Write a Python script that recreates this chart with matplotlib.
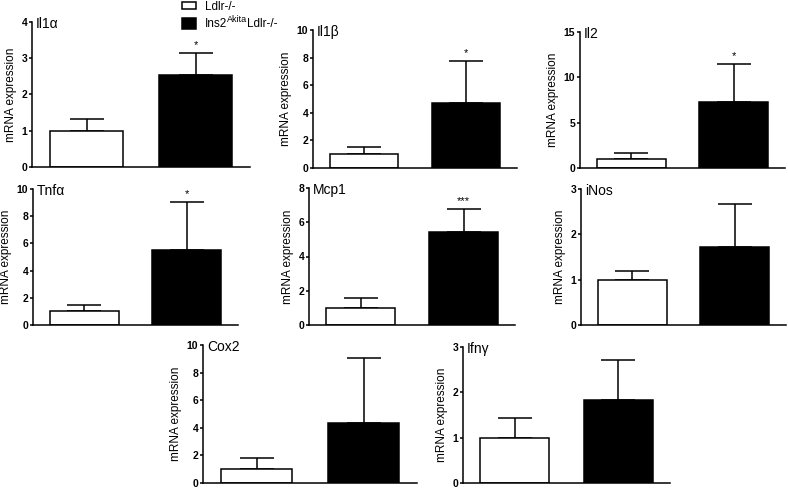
import matplotlib
matplotlib.use('Agg')
import matplotlib.pyplot as plt
from matplotlib.patches import Rectangle
import numpy as np

plt.rcParams['font.family'] = ['Liberation Sans', 'DejaVu Sans']

genes = ['Il1\u03b1', 'Il1\u03b2', 'Il2', 'Tnf\u03b1', 'Mcp1', 'iNos', 'Cox2', 'Ifn\u03b3']
ctrl_mean = [1.0, 1.0, 1.0, 1.0, 1.0, 1.0, 1.0, 1.0]
ctrl_top = [1.32, 1.55, 1.6, 1.45, 1.6, 1.2, 1.8, 1.43]
akita_mean = [2.55, 4.7, 7.3, 5.55, 5.45, 1.72, 4.35, 1.82]
akita_top = [3.15, 7.75, 11.5, 9.05, 6.8, 2.68, 9.05, 2.72]
ymax = [4, 10, 15, 10, 8, 3, 10, 3]
ystep = [1, 2, 5, 2, 2, 1, 2, 1]
stars = ['*', '*', '*', '*', '***', '', '', '']
group1 = 'Ldlr-/-'
group2 = ['Ins2', 'Akita', 'Ldlr-/-']

W, H = 788, 488
# axes boxes in pixels: left, top, right, bottom
boxes = [(32, 22, 250, 167), (313, 30, 517, 168), (580, 32, 785, 168),
         (33, 189, 238, 325), (309, 188, 515, 325), (581, 189, 786, 325),
         (203, 345, 417, 483), (463, 347, 670, 483)]

fig = plt.figure(figsize=(W / 100, H / 100), dpi=100)

for i, g in enumerate(genes):
    l, t, r, b = boxes[i]
    ax = fig.add_axes([l / W, (H - b) / H, (r - l) / W, (b - t) / H])
    means = [ctrl_mean[i], akita_mean[i]]
    errs = [ctrl_top[i] - ctrl_mean[i], akita_top[i] - akita_mean[i]]
    x = np.arange(2)
    ax.bar(x, means, width=0.67, color=['white', 'black'], edgecolor='black',
           linewidth=1.1, zorder=2)
    ax.errorbar(x, means, yerr=[[0, 0], errs], fmt='none', ecolor='black',
                elinewidth=1.1, capsize=12.5, capthick=1.1, zorder=1)
    if stars[i]:
        ax.annotate(stars[i], (1, akita_top[i]), xytext=(0, 2), textcoords='offset points',
                    ha='center', va='bottom', fontsize=8)
    ax.set_xlim(-0.5, 1.5)
    ax.set_ylim(0, ymax[i])
    ax.set_yticks(np.arange(0, ymax[i] + 0.1, ystep[i]))
    ax.set_xticks([])
    for s in ['top', 'right']:
        ax.spines[s].set_visible(False)
    for s in ['left', 'bottom']:
        ax.spines[s].set_linewidth(1.1)
    ax.tick_params(axis='y', direction='out', length=2.5, width=1.1, pad=1, labelsize=7.5)
    for lab in ax.get_yticklabels():
        lab.set_fontweight('bold')
    ax.set_ylabel('mRNA expression', fontsize=8.5, labelpad=3)
    ax.annotate(g, (0, 1), xycoords='axes fraction', xytext=(3, -1.5),
                textcoords='offset points', ha='left', va='center', fontsize=10)

# legend
fig.patches.append(Rectangle((182 / W, (H - 9) / H), 14 / W, 7 / H, transform=fig.transFigure,
                             facecolor='white', edgecolor='black', linewidth=1.1))
fig.patches.append(Rectangle((182 / W, (H - 29) / H), 14 / W, 11 / H, transform=fig.transFigure,
                             facecolor='black', edgecolor='black', linewidth=1.1))
fig.text(205 / W, (H - 6.5) / H, group1, fontsize=8.5, va='center', ha='left')

renderer = fig.canvas.get_renderer()
t1 = fig.text(205 / W, (H - 24) / H, group2[0], fontsize=8.5, va='center', ha='left')
x1 = t1.get_window_extent(renderer).x1
t2 = fig.text(x1 / W, (H - 20) / H, group2[1], fontsize=6.5, va='center', ha='left')
x2 = t2.get_window_extent(renderer).x1
fig.text(x2 / W, (H - 24) / H, group2[2], fontsize=8.5, va='center', ha='left')

fig.savefig('out.png', dpi=100)
